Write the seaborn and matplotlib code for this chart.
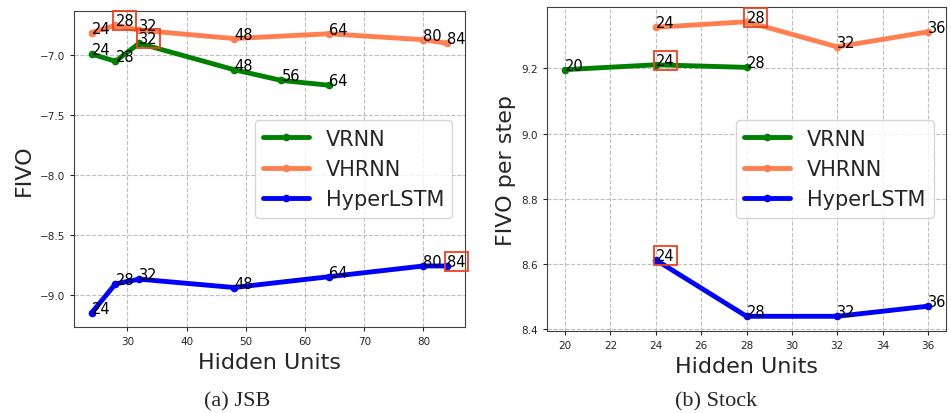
import pandas as pd
import matplotlib
matplotlib.use("Agg")
import matplotlib.pyplot as plt
import seaborn as sns

sns.set_style("ticks")
plt.rcParams['font.family'] = ['DejaVu Sans']

# JSB
jsb_vrnn_x = [24, 28, 32, 48, 56, 64]
jsb_vrnn_y = [-6.99, -7.05, -6.90, -7.12, -7.21, -7.25]
jsb_vhrnn_x = [24, 28, 32, 48, 64, 80, 84]
jsb_vhrnn_y = [-6.81, -6.75, -6.79, -6.86, -6.82, -6.87, -6.90]
jsb_hyper_x = [24, 28, 32, 48, 64, 80, 84]
jsb_hyper_y = [-9.15, -8.91, -8.87, -8.94, -8.85, -8.76, -8.76]

# Stock
stock_vrnn_x = [20, 24, 28]
stock_vrnn_y = [9.196, 9.211, 9.203]
stock_vhrnn_x = [24, 28, 32, 36]
stock_vhrnn_y = [9.326, 9.343, 9.266, 9.312]
stock_hyper_x = [24, 28, 32, 36]
stock_hyper_y = [8.612, 8.439, 8.439, 8.470]

# mejor punto de cada serie (etiqueta con recuadro)
jsb_best = {"VRNN": 32, "VHRNN": 28, "HyperLSTM": 84}
stock_best = {"VRNN": 24, "VHRNN": 28, "HyperLSTM": 24}

names = ["VRNN", "VHRNN", "HyperLSTM"]
colors = {"VRNN": "green", "VHRNN": "coral", "HyperLSTM": "blue"}
BOX = dict(facecolor="none", edgecolor="#f0401e", lw=1.3, pad=1.5)


def draw_panel(ax, series, best, ylabel):
    for name, (xs, ys) in zip(names, series):
        df = pd.DataFrame({"x": xs, "y": ys})
        c = colors[name]
        sns.lineplot(data=df, x="x", y="y", ax=ax, color=c, marker="o",
                     lw=3.5, ms=5.5, mec=c, mew=0, label=name)
        for x, y in zip(xs, ys):
            kw = {"bbox": BOX} if best[name] == x else {}
            ax.text(x, y, str(x), fontsize=10.5, color="black", zorder=5, **kw)
    ax.grid(True, ls="--", color="0.75", lw=0.8)
    ax.set_xlabel("Hidden Units", fontsize=16)
    ax.set_ylabel(ylabel, fontsize=16)
    ax.tick_params(labelsize=7.5, length=3)
    for s in ax.spines.values():
        s.set_color("0.25")
    ax.legend(loc="center right", fontsize=15, handlelength=2.2,
              borderaxespad=0.6)


fig = plt.figure(figsize=(9.51, 4.14), dpi=100)
ax1 = fig.add_axes([0.0778, 0.2077, 0.4111, 0.7633])
ax2 = fig.add_axes([0.5752, 0.198, 0.4196, 0.7826])

draw_panel(ax1, [(jsb_vrnn_x, jsb_vrnn_y), (jsb_vhrnn_x, jsb_vhrnn_y),
                 (jsb_hyper_x, jsb_hyper_y)], jsb_best, "FIVO")
draw_panel(ax2, [(stock_vrnn_x, stock_vrnn_y), (stock_vhrnn_x, stock_vhrnn_y),
                 (stock_hyper_x, stock_hyper_y)], stock_best, "FIVO per step")
ax1.set_xticks([30, 40, 50, 60, 70, 80])
ax2.set_xticks(range(20, 37, 2))
ax2.set_yticks([8.4, 8.6, 8.8, 9.0, 9.2])

fig.text(0.249, 0.006, "(a) JSB", family="Liberation Serif", fontsize=16,
         ha="center", va="bottom")
fig.text(0.753, 0.006, "(b) Stock", family="Liberation Serif", fontsize=16,
         ha="center", va="bottom")

fig.savefig("out.png", dpi=100)
